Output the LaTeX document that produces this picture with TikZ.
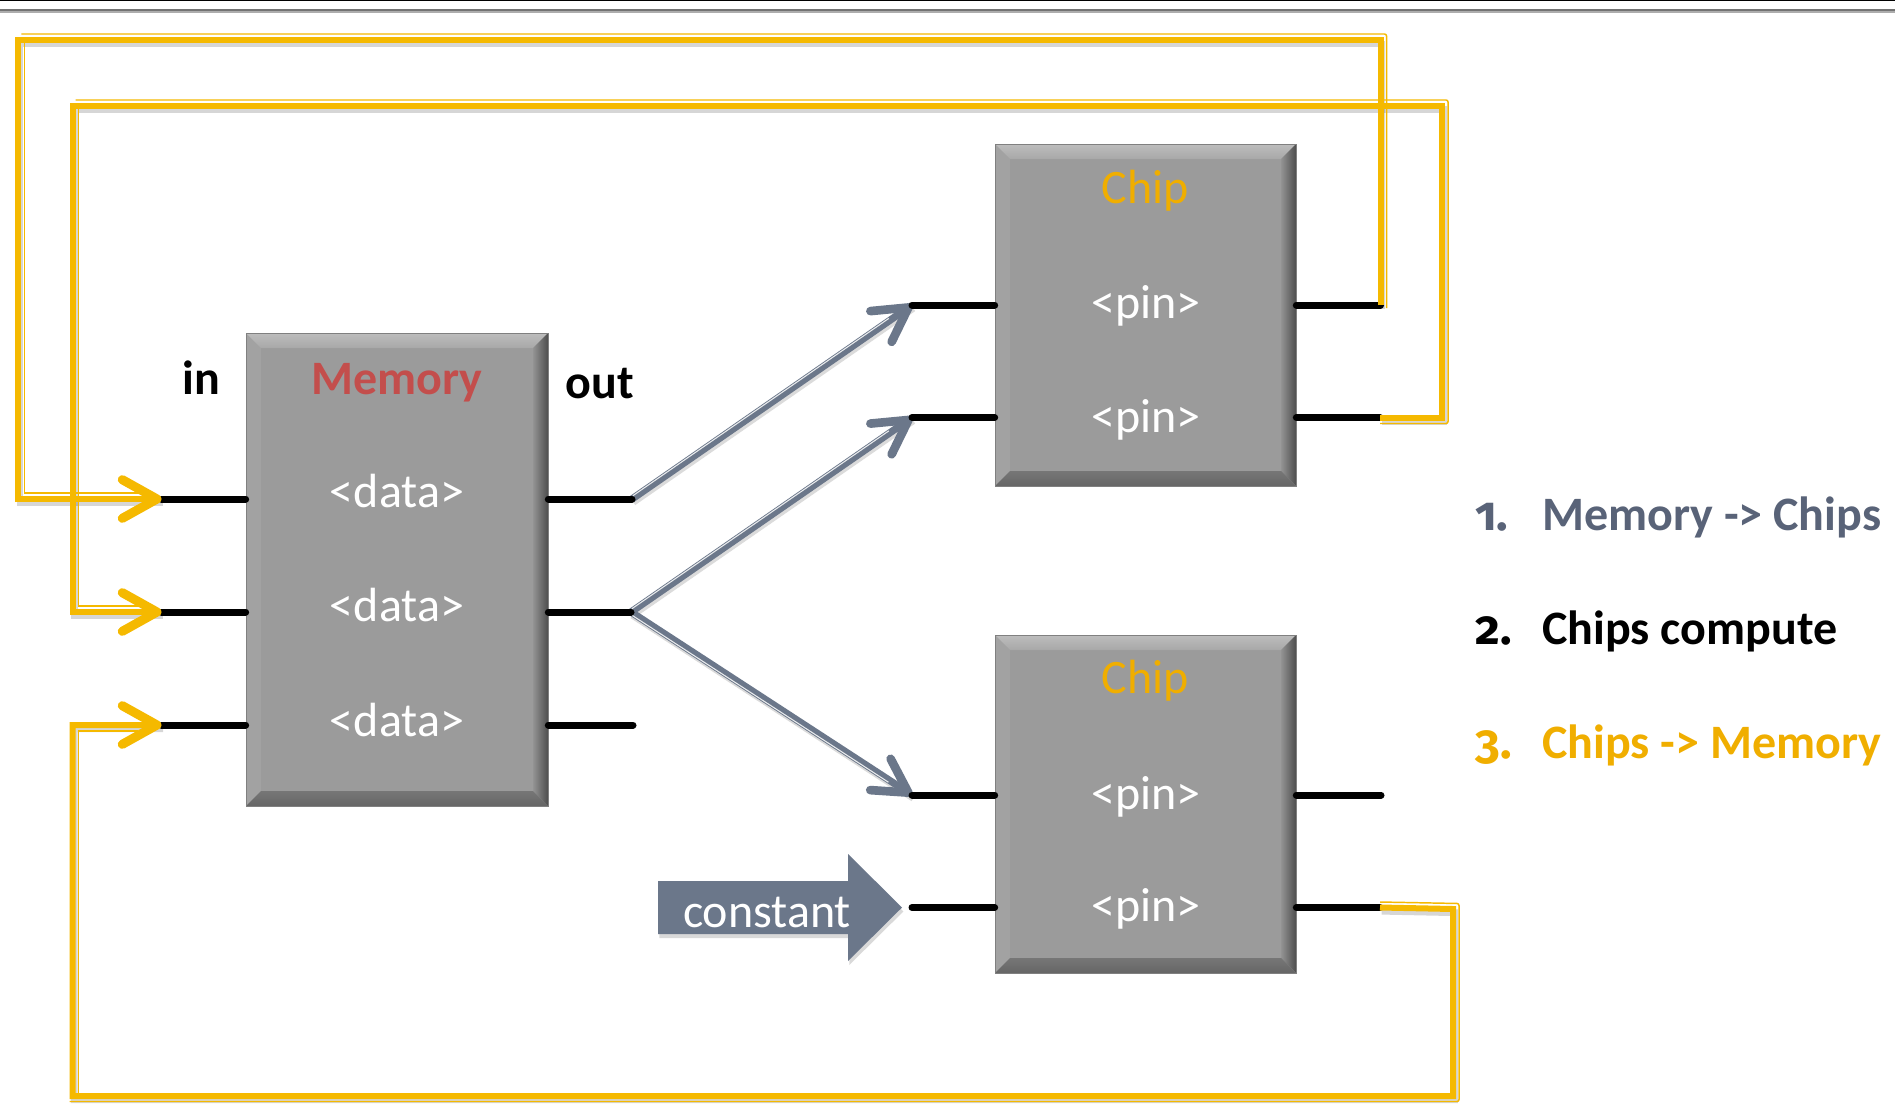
\documentclass[tikz,border=0pt]{standalone}
\usepackage{fontspec}
\setmainfont{Carlito}
\newfontfamily\oldnum[Numbers=OldStyle]{Fira Sans}
\usetikzlibrary{arrows.meta,calc,backgrounds}

\definecolor{wireyellow}{HTML}{F5B900}
\definecolor{chipyellow}{HTML}{F0AE00}
\definecolor{memred}{HTML}{C34E4C}
\definecolor{slate}{HTML}{6B778A}
\definecolor{slatetext}{HTML}{596378}
\definecolor{boxgray}{HTML}{9B9B9B}
\definecolor{boxedge}{HTML}{808080}
\definecolor{bevtopA}{HTML}{BDBDBD}
\definecolor{bevtopB}{HTML}{A8A8A8}
\definecolor{bevleft}{HTML}{A2A2A2}
\definecolor{bevrightA}{HTML}{939393}
\definecolor{bevrightB}{HTML}{4E4E4E}
\definecolor{bevbotA}{HTML}{767676}
\definecolor{bevbotB}{HTML}{666666}

\tikzset{
  bevelbox/.style={rectangle, inner sep=0pt, fill=boxgray, draw=boxedge, line width=0.5pt,
    path picture={
      \path (path picture bounding box.north west) coordinate (bb-nw)
            (path picture bounding box.north east) coordinate (bb-ne)
            (path picture bounding box.south west) coordinate (bb-sw)
            (path picture bounding box.south east) coordinate (bb-se);
      \fill[bevleft] (bb-nw) -- ([shift={(11.25pt,-11.25pt)}]bb-nw) -- ([shift={(11.25pt,11.25pt)}]bb-sw) -- (bb-sw) -- cycle;
      \shade[top color=bevtopA, bottom color=bevtopB] (bb-nw) -- (bb-ne) -- ([shift={(-11.25pt,-11.25pt)}]bb-ne) -- ([shift={(11.25pt,-11.25pt)}]bb-nw) -- cycle;
      \shade[left color=bevrightA, right color=bevrightB] (bb-ne) -- (bb-se) -- ([shift={(-11.25pt,11.25pt)}]bb-se) -- ([shift={(-11.25pt,-11.25pt)}]bb-ne) -- cycle;
      \shade[top color=bevbotA, bottom color=bevbotB] (bb-sw) -- (bb-se) -- ([shift={(-11.25pt,11.25pt)}]bb-se) -- ([shift={(11.25pt,11.25pt)}]bb-sw) -- cycle;
    }},
  txt/.style={inner sep=0pt, anchor=base},
  listtxt/.style={inner sep=0pt, anchor=base west},
  pinstub/.style={black, line width=5.25pt, line cap=round},
  wire/.style={wireyellow, line width=4.5pt, line join=miter},
  wirethin/.style={wireyellow, line width=1.1pt},
  wireshade/.style={black, opacity=.16, line width=5pt, transform canvas={shift={(1.2pt,-2.8pt)}}},
  yhead/.style={-{Straight Barb[length=26pt, width=29pt, line width=6.8pt, round]}},
  slatewire/.style={slate, line width=5.4pt, -{Straight Barb[length=25pt, width=28pt, line width=6.5pt, round]}},
  stripe/.style={white!85!slate, line width=0.8pt, shorten >=20pt, shorten <=2pt},
}

\begin{document}
\begin{tikzpicture}[x=0.75pt, y=-0.75pt, font=\fontsize{36}{40}\selectfont]
\useasboundingbox (0,0) rectangle (1895,1103);
\fill[white] (0,0) rectangle (1895,1103);

% header rule
\draw[black, line width=0.8pt] (0,0.6) -- (1895,0.6);
\draw[black!55, line width=1.2pt] (0,10) -- (1895,10);
\draw[black!32, line width=1.5pt] (0,12) -- (1895,12);

% blocks
\node[bevelbox, minimum width=226.5pt, minimum height=354.75pt] (mem) at (397,569.5) {};
\node[bevelbox, minimum width=225.75pt, minimum height=256.5pt] (chip1) at (1145.5,315) {};
\node[bevelbox, minimum width=225.75pt, minimum height=253.5pt] (chip2) at (1145.5,804) {};

% soft shadows under the blocks
\begin{scope}[on background layer]
  \foreach \b in {mem,chip1,chip2}{
    \foreach \s/\o in {1.2/.14,2.4/.11,3.6/.08,4.8/.05}{
      \fill[black, opacity=\o] ([shift={(0.5pt,-\s pt)}]\b.north west) rectangle ([shift={(0.8pt,-\s pt)}]\b.south east);
    }
  }
\end{scope}

% pin ends
\coordinate (mi1) at (161.5,499);
\coordinate (mi2) at (161.5,612);
\coordinate (mi3) at (161.5,725);
\coordinate (mo1) at (632,499);
\coordinate (mo2) at (631,612);
\coordinate (mo3) at (633,725);
\coordinate (c1i1) at (912,305);
\coordinate (c1i2) at (912,417.5);
\coordinate (c1o1) at (1380.5,305);
\coordinate (c1o2) at (1380,417.5);
\coordinate (c2i1) at (912,795);
\coordinate (c2i2) at (912,907.5);
\coordinate (c2o1) at (1381,795);
\coordinate (c2o2) at (1380,907.5);

% bends of the feedback wires
\coordinate (a1) at (1380.5,40.3);
\coordinate (a2) at (18.3,40.3);
\coordinate (b1) at (1442,417.5);
\coordinate (b2) at (1442,105.5);
\coordinate (b3) at (72.7,105.5);
\coordinate (k1) at (1453,909);
\coordinate (k2) at (1453,1096);
\coordinate (k3) at (72.7,1096);

% memory -> chips
\draw[black, opacity=.14, line width=5pt, transform canvas={shift={(1pt,-2.5pt)}}] (mo1) -- (c1i1) (mo2) -- (c1i2) (mo2) -- (c2i1);
\draw[slatewire] (mo1) -- (c1i1);
\draw[slatewire] (mo2) -- (c1i2);
\draw[slatewire] (mo2) -- (c2i1);
\draw[stripe, transform canvas={shift={(-0.95pt,1.35pt)}}] (mo1) -- (c1i1);
\draw[stripe, transform canvas={shift={(-0.95pt,1.35pt)}}] (mo2) -- (c1i2);
\draw[stripe, transform canvas={shift={(-0.9pt,-1.35pt)}}] (mo2) -- (c2i1);

% pin stubs
\foreach \p in {mi1,mi2,mi3}{\draw[pinstub] (\p) -- (\p -| mem.west);}
\foreach \p in {mo1,mo2,mo3}{\draw[pinstub] (\p -| mem.east) -- (\p);}
\foreach \p in {c1i1,c1i2}{\draw[pinstub] (\p) -- (\p -| chip1.west);}
\foreach \p in {c1o1,c1o2}{\draw[pinstub] (\p -| chip1.east) -- (\p);}
\foreach \p in {c2i1,c2i2}{\draw[pinstub] (\p) -- (\p -| chip2.west);}
\foreach \p in {c2o1,c2o2}{\draw[pinstub] (\p -| chip2.east) -- (\p);}

% chips -> memory: shadows
\draw[wireshade] (c1o1) -- (a1) -- (a2) |- (mi1);
\draw[wireshade] (c1o2) -- (b1) -- (b2) -- (b3) |- (mi2);
\draw[wireshade] (c2o2) -- (k1) -- (k2) -- (k3) |- (mi3);

% chips -> memory: wires
\draw[wire, yhead] (c1o1) -- (a1) -- (a2) |- (mi1);
\draw[wire, yhead] (c1o2) -- (b1) -- (b2) -- (b3) |- (mi2);
\draw[wire, yhead] (c2o2) -- (k1) -- (k2) -- (k3) |- (mi3);

% thin companion lines of the wires
\draw[wirethin, rounded corners=1.5pt] ($(c1o1)+(6,3)$) -- ($(a1)+(6,-6.3)$) -- ($(a2)+(3,-6.3)$);
\draw[wirethin] ($(a2)+(6,3)$) |- ($(mi1)+(-24,-6)$);
\draw[wirethin, rounded corners=1.5pt] ($(c1o2)+(0,6)$) -- ($(b1)+(6,6)$) -- ($(b2)+(6,-5.5)$) -- ($(b3)+(3,-5.5)$);
\draw[wirethin] ($(b3)+(6,3)$) |- ($(mi2)+(-24,-6)$);
\draw[wirethin, rounded corners=1.5pt] ($(c2o2)+(0,-5.5)$) -- ($(k1)+(6,-5.5)$) -- ($(k2)+(6,5.5)$) -- ($(k3)+(-3,5.5)$);
\draw[wirethin] ($(k3)+(6,-3)$) |- ($(mi3)+(-24,6)$);

% constant input
\fill[black, opacity=.15, transform canvas={shift={(1pt,-3pt)}}] (658,881) -- (848,881) -- (848,854) -- (902,907.5) -- (848,961) -- (848,934) -- (658,934) -- cycle;
\fill[slate] (658,881) -- (848,881) -- (848,854) -- (902,907.5) -- (848,961) -- (848,934) -- (658,934) -- cycle;
\node[txt, white] (const) at (767,927) {constant};

% labels
\node[txt, memred] (memtitle) at (397,394) {\bfseries Memory};
\node[txt] (inlbl) at (201,394) {\bfseries in};
\node[txt] (outlbl) at (600,398) {\bfseries out};
\node[txt, white] (d1) at (397,507) {<data>};
\node[txt, white] (d2) at (397,621.5) {<data>};
\node[txt, white] (d3) at (397,736.5) {<data>};

\node[txt, chipyellow] (c1title) at (1145.5,203) {Chip};
\node[txt, white] (c1p1) at (1146,318.5) {<pin>};
\node[txt, white] (c1p2) at (1146,432) {<pin>};
\node[txt, chipyellow] (c2title) at (1145.5,693) {Chip};
\node[txt, white] (c2p1) at (1146,809) {<pin>};
\node[txt, white] (c2p2) at (1146,921.5) {<pin>};

% steps
\node[listtxt, slatetext] (n1) at (1475,530) {\bfseries\oldnum 1.};
\node[listtxt, slatetext] (s1) at (1542,530) {\bfseries Memory -> Chips};
\node[listtxt, black] (n2) at (1475,644) {\bfseries\oldnum 2.};
\node[listtxt, black] (s2) at (1542,644) {\bfseries Chips compute};
\node[listtxt, chipyellow] (n3) at (1475,758) {\bfseries\oldnum 3.};
\node[listtxt, chipyellow] (s3) at (1542,758) {\bfseries Chips -> Memory};
\end{tikzpicture}
\end{document}
